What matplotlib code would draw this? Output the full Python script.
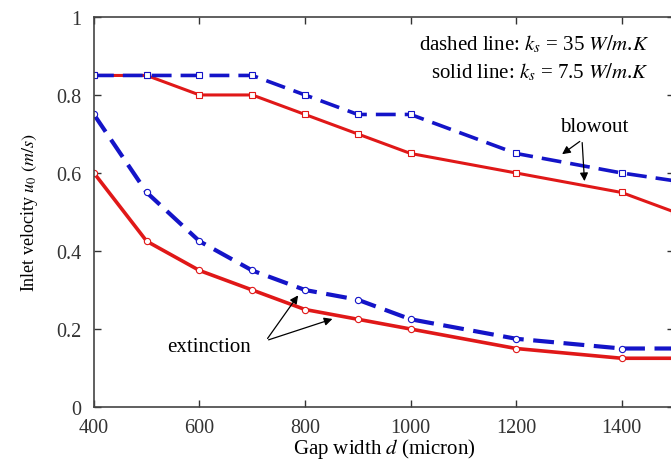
import numpy as np
import matplotlib
matplotlib.use("Agg")
import matplotlib.pyplot as plt

plt.rcParams['font.family'] = ['Liberation Serif', 'DejaVu Serif']
plt.rcParams['mathtext.fontset'] = 'stix'

gap = [400, 500, 600, 700, 800, 900, 1000, 1200, 1400, 1500]

# blowout limits (squares)
blow_35 = [0.85, 0.85, 0.85, 0.85, 0.80, 0.75, 0.75, 0.65, 0.60, 0.58]
blow_75 = [0.85, 0.85, 0.80, 0.80, 0.75, 0.70, 0.65, 0.60, 0.55, 0.50]

# extinction limits (circles)
ext_35 = [0.75, 0.55, 0.425, 0.35, 0.30, 0.275, 0.225, 0.175, 0.15, 0.15]
ext_75 = [0.60, 0.425, 0.35, 0.30, 0.25, 0.225, 0.20, 0.15, 0.125, 0.125]

red = '#e01818'
blue = '#1414c8'

fig = plt.figure(figsize=(6.71, 4.6), dpi=100)
ax = fig.add_axes([0.140, 0.113, 0.865, 0.848])

ax.plot(gap, blow_75, '-', color=red, lw=2.2, marker='s', ms=4.5, mfc='white', mec=red, mew=0.8)
ax.plot(gap, ext_75, '-', color=red, lw=2.6, marker='o', ms=4.5, mfc='white', mec=red, mew=0.8)
ax.plot(gap, blow_35, '--', color=blue, lw=2.6, dashes=(5.5, 2.5), marker='s', ms=4.5, mfc='white', mec=blue, mew=0.8)
ax.plot(gap, ext_35, '--', color=blue, lw=3.0, dashes=(5, 2.3), marker='o', ms=4.5, mfc='white', mec=blue, mew=0.8)

ax.set_xlim(400, 1500)
ax.set_ylim(0, 1)
ax.set_xticks(range(400, 1401, 200))
ax.set_yticks([0, 0.2, 0.4, 0.6, 0.8, 1])
ax.set_yticklabels(['0', '0.2', '0.4', '0.6', '0.8', '1'])
ax.tick_params(direction='in', top=True, right=True, length=5, width=1, labelsize=14.5, colors='#333333')
ax.tick_params(axis='x', pad=8)
ax.tick_params(axis='y', pad=9)
for s in ax.spines.values():
    s.set_color('#444444')
    s.set_linewidth(1.2)

ax.set_xlabel('Gap width $d$ (micron)', fontsize=15, labelpad=-1)
ax.set_ylabel('Inlet velocity $u_0$ $(m/s)$', fontsize=13, labelpad=12)

ax.text(1453, 0.931, 'dashed line: $k_s$ = 35 $W/m$.$K$', ha='right', va='center', fontsize=15)
ax.text(1453, 0.859, 'solid line: $k_s$ = 7.5 $W/m$.$K$', ha='right', va='center', fontsize=15)

ax.text(1349, 0.718, 'blowout', ha='center', va='center', fontsize=15)
ax.annotate('', xy=(1283, 0.644), xytext=(1325, 0.685),
            arrowprops=dict(arrowstyle='-|>', color='black', lw=0.9, mutation_scale=12))
ax.annotate('', xy=(1330, 0.572), xytext=(1325, 0.685),
            arrowprops=dict(arrowstyle='-|>', color='black', lw=0.9, mutation_scale=12))

ax.text(618, 0.155, 'extinction', ha='center', va='center', fontsize=15)
ax.annotate('', xy=(790, 0.292), xytext=(726, 0.17),
            arrowprops=dict(arrowstyle='-|>', color='black', lw=0.9, mutation_scale=12))
ax.annotate('', xy=(857, 0.228), xytext=(726, 0.17),
            arrowprops=dict(arrowstyle='-|>', color='black', lw=0.9, mutation_scale=12))

fig.savefig('out.png', dpi=100)
